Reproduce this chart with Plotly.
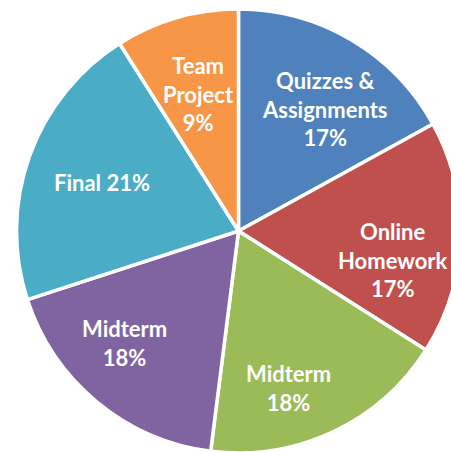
import plotly.graph_objects as go

# ---- data ----
categories = ["Quizzes &<br>Assignments", "Online<br>Homework", "Midterm", "Midterm", "Final", "Team<br>Project"]
percent_values = [17, 17, 18, 18, 21, 9]
label_texts = ["Quizzes &<br>Assignments<br>17%", "Online<br>Homework<br>17%", "Midterm<br>18%",
               "Midterm<br>18%", "Final 21%", "Team<br>Project<br>9%"]

# ---- styling / layout ----
colors = ["#4F81BD", "#C0504D", "#9BBB59", "#8064A2", "#4BACC6", "#F79646"]
W, H = 480, 480
cx, cy, R = 238.5, 231.0, 222.0   # pie centre and radius in page pixels
# label block centres in page pixels
label_pos = [(325, 109), (393, 259.5), (288.7, 387.5), (124.7, 343), (101.7, 182.7), (198.5, 94)]

fig = go.Figure(go.Pie(
    labels=[f"{c} ({i})" for i, c in enumerate(categories)],
    values=percent_values,
    sort=False,
    direction="clockwise",
    rotation=0,
    textinfo="none",
    marker=dict(colors=colors, line=dict(color="white", width=3.5)),
    domain=dict(x=[(cx - R) / W, (cx + R) / W], y=[1 - (cy + R) / H, 1 - (cy - R) / H]),
    showlegend=False,
))

for (px, py), t in zip(label_pos, label_texts):
    fig.add_annotation(
        x=px / W, y=1 - py / H, xref="paper", yref="paper",
        text=t, showarrow=False, xanchor="center", yanchor="middle",
        font=dict(family="Lato", size=22, color="white", weight="bold"),
        align="center",
    )

fig.update_layout(
    width=W, height=H,
    margin=dict(l=0, r=0, t=0, b=0),
    paper_bgcolor="white", plot_bgcolor="white",
)

fig.write_html("out.html",
               config={"displayModeBar": False},
               post_script="document.body.style.margin='0';document.body.style.overflow='hidden';"
                           "document.documentElement.style.overflow='hidden';")
